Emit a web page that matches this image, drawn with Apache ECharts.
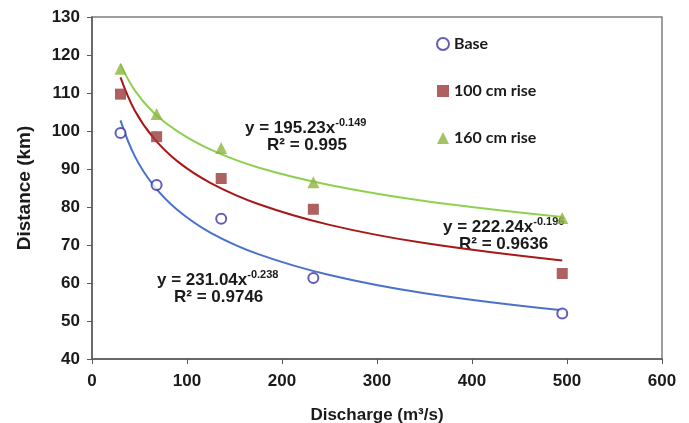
<!DOCTYPE html>
<html>
<head>
<meta charset="utf-8">
<title>Distance vs discharge</title>
<script src="https://cdn.jsdelivr.net/npm/echarts@6/dist/echarts.min.js"></script>
<style>
    html, body { margin: 0; padding: 0; background: #fff; }
    #chart { width: 689px; height: 423px; }
</style>
</head>
<body>
<div id="chart"></div>
<script>
    'use strict';

    // observed points
    var discharge = [30, 68, 136, 233, 495];
    var baseDist = [99.5, 85.8, 76.9, 61.3, 52.0];
    var rise100Dist = [109.7, 98.5, 87.5, 79.4, 62.5];
    var rise160Dist = [116.4, 104.5, 95.5, 86.5, 77.1];

    // trend curves
    var curveX = [30, 45, 65, 90, 125, 175, 250, 350, 495];
    var baseCurve = [102.8, 93.4, 85.6, 79.2, 73.2, 67.6, 62.1, 57.3, 52.8];
    var rise100Curve = [114.1, 105.4, 98.1, 92.0, 86.3, 80.8, 75.3, 70.5, 65.9];
    var rise160Curve = [117.6, 110.7, 104.8, 99.9, 95.1, 90.4, 85.8, 81.6, 77.4];

    var xTicks = [0, 100, 200, 300, 400, 500, 600];
    var yTicks = [40, 50, 60, 70, 80, 90, 100, 110, 120, 130];

    function pairs(xs, ys) {
        return xs.map(function (x, i) {
            return [x, ys[i]];
        });
    }

    function curve(name, ys, color) {
        return {
            name: name,
            type: 'line',
            data: pairs(curveX, ys),
            smooth: 0.4,
            showSymbol: false,
            silent: true,
            z: 1,
            lineStyle: { color: color, width: 2 }
        };
    }

    function equation(x, y, main, sup, r2, r2x) {
        return [{
            type: 'text',
            left: x,
            top: y,
            style: {
                text: '{m|' + main + '}{s|' + sup + '}',
                rich: {
                    m: { font: 'bold 17px Arial', fill: '#1a1a1a', lineHeight: 20, verticalAlign: 'bottom' },
                    s: { font: 'bold 11px Arial', fill: '#1a1a1a', lineHeight: 20, verticalAlign: 'top', padding: [0, 0, 8, 0] }
                }
            }
        }, {
            type: 'text',
            left: r2x,
            top: y + 20,
            style: { text: r2, font: 'bold 17px Arial', fill: '#1a1a1a' }
        }];
    }

    var chart = echarts.init(document.getElementById('chart'), null, { renderer: 'canvas' });

    var axisFont = { fontFamily: 'Arial', fontWeight: 'bold', fontSize: 17, color: '#1a1a1a' };

    chart.setOption({
        animation: false,
        grid: {
            left: 92, right: 27, top: 17, bottom: 64,
            outerBoundsMode: 'none',
            containLabel: false,
            show: true, borderColor: '#7f7f7f', borderWidth: 1.5
        },
        legend: {
            orient: 'vertical',
            left: 431,
            top: 31,
            itemGap: 31,
            itemWidth: 12,
            itemHeight: 12,
            data: ['Base', '100 cm rise', '160 cm rise'],
            textStyle: { fontFamily: 'Lato', fontWeight: 'bold', fontSize: 16, color: '#1a1a1a' }
        },
        xAxis: {
            type: 'value',
            min: xTicks[0],
            max: xTicks[xTicks.length - 1],
            interval: 100,
            name: 'Discharge (m³/s)',
            nameLocation: 'middle',
            nameGap: 48,
            nameTextStyle: { fontFamily: 'Arial', fontWeight: 'bold', fontSize: 17, color: '#1a1a1a' },
            axisLine: { show: true, lineStyle: { color: '#595959', width: 1.5 } },
            axisTick: { show: true, length: 5, lineStyle: { color: '#595959' } },
            axisLabel: Object.assign({ margin: 14 }, axisFont),
            splitLine: { show: false }
        },
        yAxis: {
            type: 'value',
            min: yTicks[0],
            max: yTicks[yTicks.length - 1],
            interval: 10,
            name: 'Distance (km)',
            nameLocation: 'middle',
            nameGap: 58,
            nameTextStyle: { fontFamily: 'Arial', fontWeight: 'bold', fontSize: 19, color: '#1a1a1a' },
            axisLine: { show: true, lineStyle: { color: '#595959', width: 1.5 } },
            axisTick: { show: true, length: 5, lineStyle: { color: '#595959' } },
            axisLabel: Object.assign({ margin: 12 }, axisFont),
            splitLine: { show: false }
        },
        series: [
            curve('Base fit', baseCurve, '#4a72c8'),
            curve('100 cm fit', rise100Curve, '#a81818'),
            curve('160 cm fit', rise160Curve, '#8fd14f'),
            {
                name: 'Base',
                type: 'scatter',
                data: pairs(discharge, baseDist),
                symbol: 'emptyCircle',
                symbolSize: 10,
                z: 3,
                itemStyle: { color: '#3b35a8', borderWidth: 1.5 }
            },
            {
                name: '100 cm rise',
                type: 'scatter',
                data: pairs(discharge, rise100Dist),
                symbol: 'rect',
                symbolSize: 11,
                z: 3,
                itemStyle: { color: '#9b3a3a' }
            },
            {
                name: '160 cm rise',
                type: 'scatter',
                data: pairs(discharge, rise160Dist),
                symbol: 'triangle',
                symbolSize: 12,
                z: 3,
                itemStyle: { color: '#8db43f' }
            }
        ],
        graphic: [].concat(
            equation(245, 117, 'y = 195.23x', '-0.149', 'R² = 0.995', 267),
            equation(157, 269, 'y = 231.04x', '-0.238', 'R² = 0.9746', 174),
            equation(443, 216, 'y = 222.24x', '-0.196', 'R² = 0.9636', 459)
        )
    });
</script>
</body>
</html>
